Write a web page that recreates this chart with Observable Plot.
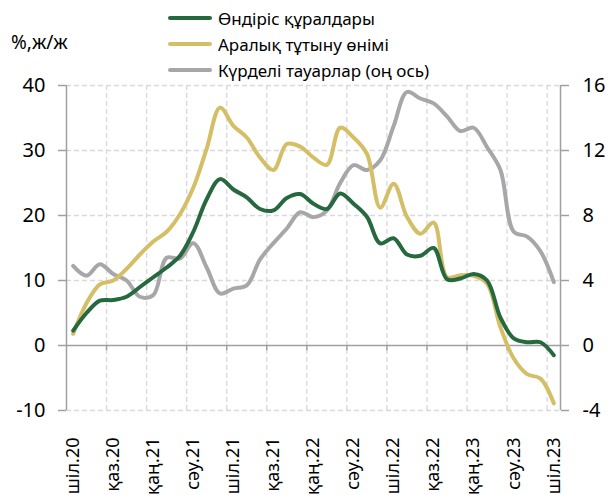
<!DOCTYPE html>
<html><head><meta charset="utf-8">
<script src="https://cdn.jsdelivr.net/npm/d3@7"></script>
<script src="https://cdn.jsdelivr.net/npm/@observablehq/plot@0.6"></script>
<style>
body{margin:0;background:#fff;font-family:"Noto Sans",sans-serif;}
#wrap{position:relative;width:609px;height:495px;overflow:hidden;}
#legend{position:relative;height:65px;}
.unit{position:absolute;left:11px;top:29px;font-size:19px;color:#000;}
.row{position:absolute;left:168px;height:24px;display:flex;align-items:center;font-size:17px;color:#000;white-space:nowrap;}
.sw{width:44px;height:4px;border-radius:2px;margin-right:6px;}
</style></head>
<body><div id="wrap"><div id="legend"></div><div id="chart"></div></div>
<script>
const months = [
  "шіл.20","там.20","қыр.20","қаз.20","қар.20","жел.20",
  "қаң.21","ақп.21","нау.21","сәу.21","мам.21","мау.21",
  "шіл.21","там.21","қыр.21","қаз.21","қар.21","жел.21",
  "қаң.22","ақп.22","нау.22","сәу.22","мам.22","мау.22",
  "шіл.22","там.22","қыр.22","қаз.22","қар.22","жел.22",
  "қаң.23","ақп.23","нау.23","сәу.23","мам.23","мау.23",
  "шіл.23"];
const seriesNames = ["Өндіріс құралдары", "Аралық тұтыну өнімі", "Күрделі тауарлар (оң ось)"];
const seriesColors = ["#27693f", "#d4be66", "#a7a7a9"];
// left axis, %
const capitalGoods = [2.3,5.0,6.9,7.0,7.5,9.0,10.5,12.0,13.8,17.5,22.5,25.6,24.0,22.8,21.0,20.8,22.7,23.3,21.8,21.0,23.4,21.8,19.8,15.7,16.5,14.0,13.8,15.0,10.2,10.3,11.0,10.0,4.3,1.1,0.5,0.5,-1.5];
// left axis, %
const intermediate = [1.8,6.5,9.4,10.0,11.8,14.0,16.0,17.5,20.2,24.3,30.3,36.6,33.8,32.0,28.9,27.0,31.0,30.6,28.9,27.8,33.5,32.0,29.5,21.2,24.9,19.8,17.2,18.9,10.5,10.8,10.7,9.5,2.8,-2.0,-4.4,-5.1,-8.9];
// right axis, %
const durables = [4.9,4.3,5.0,4.4,4.0,3.0,3.1,5.4,5.35,6.3,4.8,3.2,3.5,3.7,5.3,6.3,7.2,8.2,7.9,8.3,10.0,11.1,10.8,11.4,13.5,15.6,15.2,14.9,14.1,13.2,13.4,12.2,10.8,7.0,6.7,5.8,3.9];
const leftTicks = [-10,0,10,20,30,40];
const rightTicks = [-4,0,4,8,12,16];
const labelEvery = 3;

// legend
const lg = document.getElementById("legend");
lg.innerHTML = `<div class="unit">%,ж/ж</div>` + seriesNames.map((n,k)=>
  `<div class="row" style="top:${6+k*26}px"><div class="sw" style="background:${seriesColors[k]}"></div>${n}</div>`).join("");

const ratio = 40/16; // right axis -> left axis
const rows = [];
months.forEach((m,i)=>{
  rows.push({i, s:0, v:capitalGoods[i]});
  rows.push({i, s:1, v:intermediate[i]});
  rows.push({i, s:2, v:durables[i]*ratio});
});
const idx = months.map((m,i)=>i);
const labelIdx = idx.filter(i=>i%labelEvery===0);
const gridIdx = idx.filter(i=>i%labelEvery===0 && i>0).map(i=>i-0.5);
const bounds = [-0.5, months.length-0.5];
const axisColor = "#a0a0a0";
const gridColor = "#d9d9d9";

const chart = Plot.plot({
  width: 609, height: 430,
  marginLeft: 66, marginRight: 49, marginTop: 20, marginBottom: 85,
  x: {domain: bounds, axis: null},
  y: {domain: [-10, 40], axis: null},
  style: {fontFamily: "'Noto Sans', sans-serif", background: "#fff", overflow: "visible"},
  marks: [
    Plot.ruleX(gridIdx, {stroke: gridColor, strokeWidth: 1.3, strokeDasharray: "5,3"}),
    Plot.ruleY(leftTicks.filter(t=>t!==0), {stroke: gridColor, strokeWidth: 1.3, strokeDasharray: "5,3"}),
    Plot.ruleY([0], {stroke: axisColor, strokeWidth: 1.5}),
    Plot.ruleX(gridIdx, {y1: 0, y2: -0.8, stroke: axisColor, strokeWidth: 1.5}),
    Plot.ruleX([bounds[0]], {stroke: axisColor, strokeWidth: 1.5}),
    Plot.ruleX([bounds[1]], {stroke: axisColor, strokeWidth: 1.5}),
    Plot.line(rows.filter(d=>d.s===2), {x:"i", y:"v", stroke: seriesColors[2], strokeWidth: 4, curve: "catmull-rom"}),
    Plot.line(rows.filter(d=>d.s===1), {x:"i", y:"v", stroke: seriesColors[1], strokeWidth: 4, curve: "catmull-rom"}),
    Plot.line(rows.filter(d=>d.s===0), {x:"i", y:"v", stroke: seriesColors[0], strokeWidth: 4, curve: "catmull-rom"}),
    Plot.axisY(leftTicks, {anchor: "left", tickSize: 8, tickPadding: 13, stroke: axisColor, strokeWidth: 1.5, fontSize: 20, fill: "#000", label: null, tickFormat: d=>String(d)}),
    Plot.axisY(rightTicks.map(t=>t*ratio), {anchor: "right", tickSize: 8, tickPadding: 14, stroke: axisColor, strokeWidth: 1.5, fontSize: 20, fill: "#000", label: null, tickFormat: d=>String(d/ratio)}),
    Plot.text(labelIdx, {x: d=>d, frameAnchor: "bottom", dy: 27, rotate: -90, textAnchor: "end", lineAnchor: "middle", text: d=>months[d], fontSize: 18, fill: "#000"})
  ]
});
document.getElementById("chart").appendChild(chart);
</script>
</body></html>
